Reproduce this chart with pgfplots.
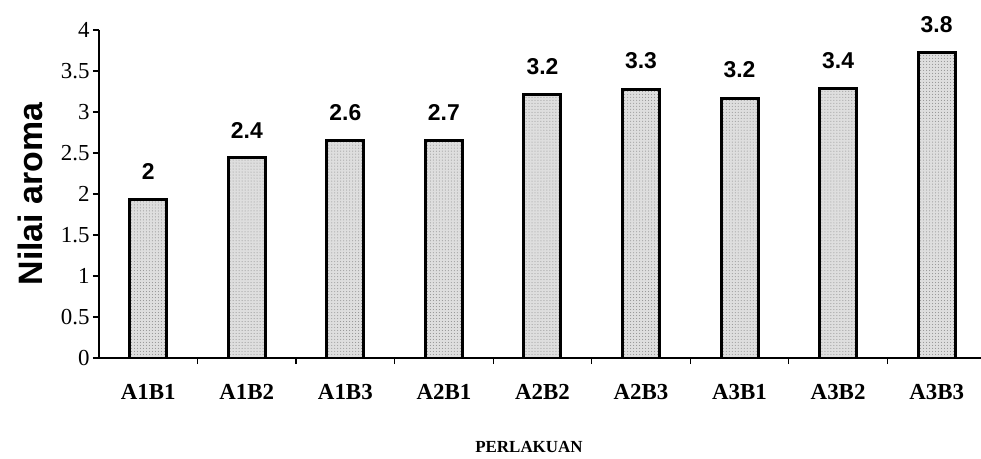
\documentclass[border=0pt]{standalone}
\usepackage{fontspec}
\setmainfont{Liberation Serif}
\newfontfamily\arial{Liberation Sans}
\usepackage{pgfplots}
\usepackage{pgfplotstable}
\pgfplotsset{compat=1.18}
\usetikzlibrary{patterns}
\pgfplotstableread{
x y lab
0 1.93 2
1 2.44 2.4
2 2.65 2.6
3 2.65 2.7
4 3.21 3.2
5 3.28 3.3
6 3.17 3.2
7 3.29 3.4
8 3.72 3.8
}\data
\begin{document}
\begin{tikzpicture}
\begin{axis}[
  scale only axis, width=882bp, height=328bp,
  xmin=-0.5, xmax=8.45, ymin=0, ymax=4,
  axis x line*=bottom, axis y line*=left,
  axis line style={line width=1.5bp, -},
  xtick={0,...,8},
  xticklabels={A1B1,A1B2,A1B3,A2B1,A2B2,A2B3,A3B1,A3B2,A3B3},
  major x tick style={draw=none},
  minor xtick={0.5,1.5,...,7.5},
  ytick={0,0.5,...,4},
  major tick length=6bp, minor tick length=6bp,
  tick align=outside,
  tick style={black, line width=1.2bp},
  /pgf/number format/assume math mode=true,
  yticklabel style={font=\fontsize{23}{24}\selectfont},
  xticklabel style={font=\bfseries\fontsize{23}{24}\selectfont, yshift=-17bp},
  ylabel={Nilai aroma},
  ylabel style={font=\arial\bfseries\fontsize{34}{36}\selectfont, at={(axis description cs:-0.078,0.5)}, anchor=center},
  xlabel={PERLAKUAN},
  xlabel style={font=\bfseries\fontsize{17}{18}\selectfont, at={(axis description cs:0.4875,-0.271)}, anchor=center},
]
\addplot[ybar, bar width=37bp, draw=black, line width=3bp, fill=black!13,
  postaction={pattern=dots, pattern color=black!45},
  nodes near coords, point meta=explicit symbolic,
  nodes near coords style={font=\arial\bfseries\fontsize{23}{24}\selectfont, yshift=15bp, text=black}]
  table[x=x, y=y, meta=lab]{\data};
\coordinate (o) at (rel axis cs:0,0);
\end{axis}
\pgfresetboundingbox
\useasboundingbox ([shift={(-99bp,-101bp)}]o) rectangle ++(981bp,459bp);
\end{tikzpicture}
\end{document}
